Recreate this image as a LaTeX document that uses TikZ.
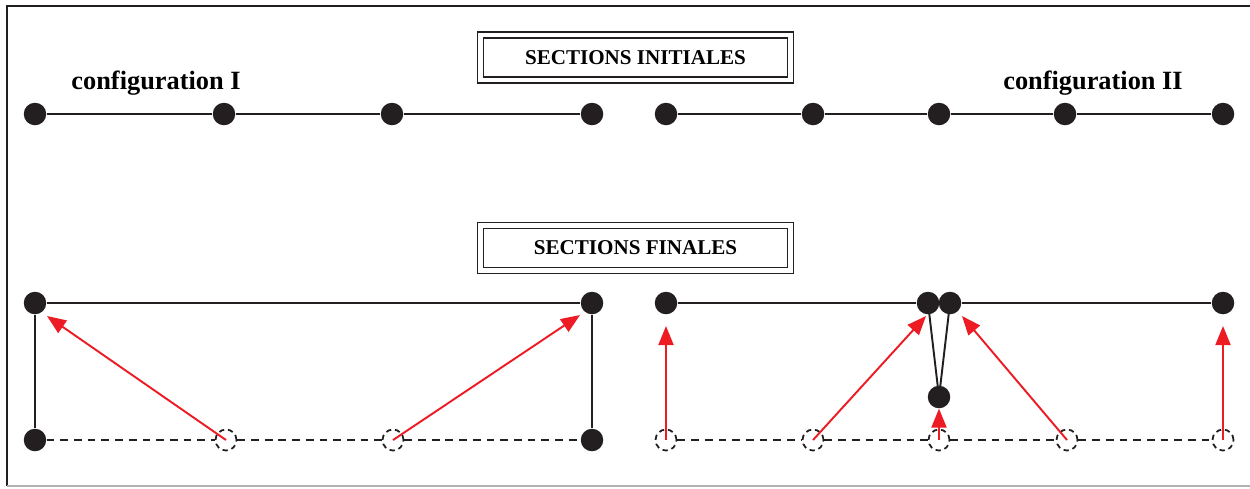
\documentclass[tikz,border=0pt]{standalone}
\usepackage{fontspec}
\setmainfont{Liberation Serif}
\usetikzlibrary{arrows.meta}
\definecolor{inkA}{HTML}{231F20}
\definecolor{redA}{HTML}{ED1C24}

\begin{document}
\begin{tikzpicture}[x=0.02cm, y=-0.02cm, font=\bfseries,
  dot/.style={circle, fill=inkA, inner sep=0pt, minimum size=0.45cm},
  ghost/.style={circle, draw=inkA, dash pattern=on 3pt off 2.2pt, line width=1pt, inner sep=0pt, minimum size=0.42cm},
  bar/.style={inkA, line width=1.1pt},
  trace/.style={inkA, line width=1.1pt, dash pattern=on 4.4pt off 3.4pt},
  banner/.style={draw=inkA, double=white, double distance=2.4pt, line width=1pt, minimum width=6.2cm, minimum height=0.9cm, inner sep=0pt, font=\fontsize{12}{14}\selectfont\bfseries},
  cfg/.style={font=\fontsize{15}{18}\selectfont\bfseries},
  push/.style={-{Triangle[length=0.38cm, width=0.3cm]}, redA, line width=1.1pt}]
\useasboundingbox (0,0) rectangle (1250,488);
% frame
\draw[inkA, line width=1pt] (1250,6) -- (7,6) -- (7,486);
\draw[black!30, line width=1pt] (7,486) -- (1250,486);

% titles
\node[banner] (tini) at (635.5,57.5) {SECTIONS INITIALES};
\node[banner] (tfin) at (635.5,248) {SECTIONS FINALES};
\node[cfg] (cI) at (156,83) {configuration I};
\node[cfg] (cII) at (1093,83) {configuration II};

% initial sections
\node[dot] (i1) at (35,114) {};
\node[dot] (i2) at (224,114) {};
\node[dot] (i3) at (392,114) {};
\node[dot] (i4) at (592,114) {};
\draw[bar] (i1) -- (i2) -- (i3) -- (i4);
\node[dot] (j1) at (666,114) {};
\node[dot] (j2) at (813,114) {};
\node[dot] (j3) at (939,114) {};
\node[dot] (j4) at (1065,114) {};
\node[dot] (j5) at (1223,114) {};
\draw[bar] (j1) -- (j2) -- (j3) -- (j4) -- (j5);

% final sections, configuration I
\node[dot] (p1) at (35,440) {};
\node[ghost] (g2) at (226,440) {};
\node[ghost] (g3) at (393,440) {};
\node[dot] (p4) at (592,440) {};
\draw[trace] (p1) -- (g2) -- (g3) -- (p4);
\node[dot] (f1) at (35,303) {};
\node[dot] (f4) at (592,303) {};
\draw[bar] (p1) -- (f1) -- (f4) -- (p4);
\draw[push] (g2.center) -- (47,316);
\draw[push] (g3.center) -- (580,315);

% final sections, configuration II
\node[ghost] (h1) at (666,440) {};
\node[ghost] (h2) at (813,440) {};
\node[ghost] (h3) at (939,440) {};
\node[ghost] (h4) at (1067,440) {};
\node[ghost] (h5) at (1223,440) {};
\draw[trace] (h1) -- (h2) -- (h3) -- (h4) -- (h5);
\node[dot] (k1) at (666,303) {};
\node[dot] (k3) at (939,397) {};
\node[dot] (k5) at (1223,303) {};
\draw[bar] (928,303) -- (k3.center) -- (950,303);
\node[dot] (k2) at (928,303) {};
\node[dot] (k4) at (950,303) {};
\draw[bar] (k1) -- (k2);
\draw[bar] (k4) -- (k5);
\draw[push] (h1.center) -- (k1.south |- 0,326);
\draw[push] (h2.center) -- (926,316);
\draw[push] (h3.center) -- (k3.south);
\draw[push] (h4.center) -- (962,316);
\draw[push] (h5.center) -- (k5.south |- 0,326);
\end{tikzpicture}
\end{document}
